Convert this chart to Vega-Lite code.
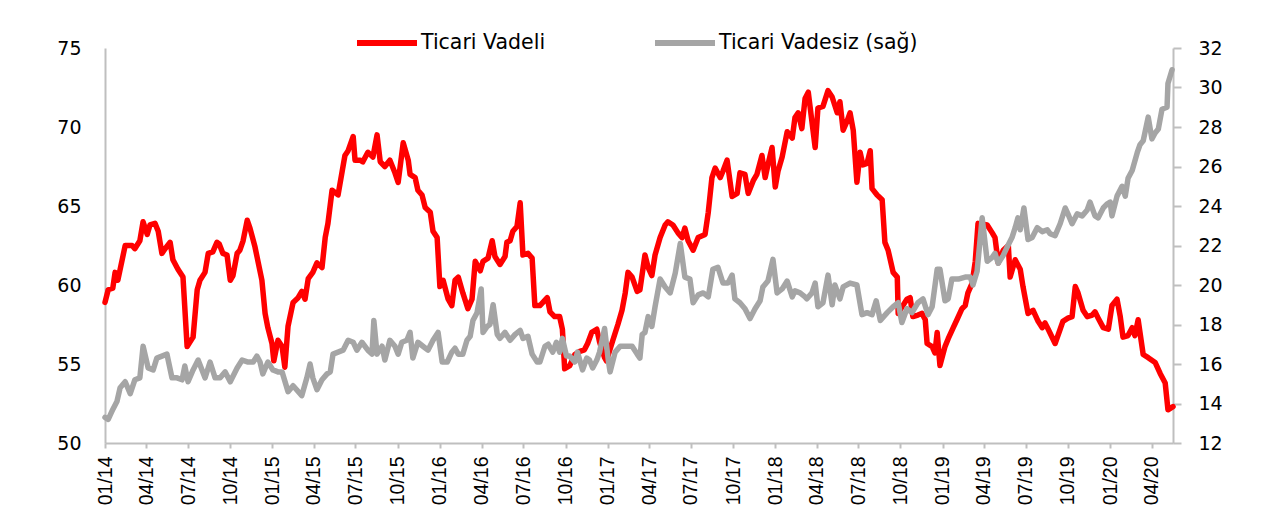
{
"$schema":"https://vega.github.io/schema/vega-lite/v6.json",
"width":1068,"height":395,
"autosize":{"type":"none"},
"padding":{"left":105,"top":48,"right":89,"bottom":75},
"background":"#ffffff",
"config":{"view":{"stroke":null},"axis":{"grid":false,"domainColor":"#bfbfbf","domainWidth":2,"tickColor":"#bfbfbf","tickWidth":2,"labelColor":"#000000","labelFont":"DejaVu Sans","labelFontSize":19,"title":null}},
"datasets":{
"vadeli":[{"d":"2014-01-01","v":58.9},{"d":"2014-01-08","v":59.7},{"d":"2014-01-18","v":59.8},{"d":"2014-01-23","v":60.8},{"d":"2014-01-29","v":60.3},{"d":"2014-02-14","v":62.5},{"d":"2014-03-01","v":62.5},{"d":"2014-03-07","v":62.3},{"d":"2014-03-18","v":62.8},{"d":"2014-03-25","v":64.0},{"d":"2014-04-03","v":63.2},{"d":"2014-04-09","v":63.8},{"d":"2014-04-20","v":63.9},{"d":"2014-04-27","v":63.4},{"d":"2014-05-05","v":62.0},{"d":"2014-05-12","v":62.3},{"d":"2014-05-23","v":62.7},{"d":"2014-05-29","v":61.6},{"d":"2014-06-09","v":61.0},{"d":"2014-06-20","v":60.5},{"d":"2014-06-29","v":56.1},{"d":"2014-07-12","v":56.7},{"d":"2014-07-21","v":59.7},{"d":"2014-07-27","v":60.3},{"d":"2014-08-07","v":60.8},{"d":"2014-08-14","v":62.0},{"d":"2014-08-24","v":62.1},{"d":"2014-09-02","v":62.7},{"d":"2014-09-07","v":62.6},{"d":"2014-09-15","v":62.0},{"d":"2014-09-24","v":61.9},{"d":"2014-10-01","v":60.3},{"d":"2014-10-07","v":60.6},{"d":"2014-10-16","v":62.0},{"d":"2014-10-22","v":62.2},{"d":"2014-10-29","v":62.8},{"d":"2014-11-07","v":64.1},{"d":"2014-11-13","v":63.6},{"d":"2014-11-24","v":62.4},{"d":"2014-12-09","v":60.3},{"d":"2014-12-16","v":58.2},{"d":"2014-12-22","v":57.3},{"d":"2014-12-31","v":56.3},{"d":"2015-01-04","v":55.2},{"d":"2015-01-13","v":56.5},{"d":"2015-01-22","v":56.1},{"d":"2015-01-28","v":54.8},{"d":"2015-02-04","v":57.4},{"d":"2015-02-15","v":58.9},{"d":"2015-02-26","v":59.2},{"d":"2015-03-06","v":59.6},{"d":"2015-03-13","v":59.1},{"d":"2015-03-20","v":60.4},{"d":"2015-03-30","v":60.8},{"d":"2015-04-08","v":61.4},{"d":"2015-04-19","v":61.1},{"d":"2015-04-26","v":63.0},{"d":"2015-05-02","v":63.9},{"d":"2015-05-11","v":66.0},{"d":"2015-05-24","v":65.7},{"d":"2015-06-02","v":67.2},{"d":"2015-06-08","v":68.2},{"d":"2015-06-15","v":68.5},{"d":"2015-06-26","v":69.4},{"d":"2015-06-30","v":67.9},{"d":"2015-07-11","v":67.9},{"d":"2015-07-17","v":67.8},{"d":"2015-07-28","v":68.4},{"d":"2015-08-08","v":68.1},{"d":"2015-08-17","v":69.5},{"d":"2015-08-24","v":67.8},{"d":"2015-09-03","v":67.5},{"d":"2015-09-14","v":67.9},{"d":"2015-09-25","v":67.1},{"d":"2015-10-02","v":66.5},{"d":"2015-10-13","v":69.0},{"d":"2015-10-24","v":67.9},{"d":"2015-10-28","v":67.0},{"d":"2015-11-08","v":66.8},{"d":"2015-11-14","v":66.0},{"d":"2015-11-23","v":65.7},{"d":"2015-11-30","v":64.9},{"d":"2015-12-11","v":64.6},{"d":"2015-12-17","v":63.4},{"d":"2015-12-26","v":63.0},{"d":"2016-01-01","v":59.9},{"d":"2016-01-08","v":60.3},{"d":"2016-01-19","v":59.1},{"d":"2016-01-27","v":58.7},{"d":"2016-02-03","v":60.3},{"d":"2016-02-10","v":60.5},{"d":"2016-02-20","v":59.5},{"d":"2016-03-02","v":58.5},{"d":"2016-03-11","v":59.1},{"d":"2016-03-18","v":61.5},{"d":"2016-03-29","v":60.9},{"d":"2016-04-04","v":61.5},{"d":"2016-04-15","v":61.7},{"d":"2016-04-24","v":62.8},{"d":"2016-04-30","v":61.8},{"d":"2016-05-11","v":61.3},{"d":"2016-05-22","v":61.8},{"d":"2016-05-26","v":62.7},{"d":"2016-06-02","v":62.8},{"d":"2016-06-08","v":63.4},{"d":"2016-06-17","v":63.7},{"d":"2016-06-24","v":65.2},{"d":"2016-06-30","v":61.9},{"d":"2016-07-11","v":62.0},{"d":"2016-07-20","v":61.7},{"d":"2016-07-26","v":58.7},{"d":"2016-08-06","v":58.7},{"d":"2016-08-22","v":59.2},{"d":"2016-08-28","v":58.3},{"d":"2016-09-07","v":58.0},{"d":"2016-09-18","v":58.0},{"d":"2016-09-24","v":57.2},{"d":"2016-09-29","v":54.7},{"d":"2016-10-10","v":54.9},{"d":"2016-10-21","v":55.6},{"d":"2016-11-01","v":55.8},{"d":"2016-11-11","v":55.9},{"d":"2016-11-18","v":56.3},{"d":"2016-11-27","v":57.0},{"d":"2016-12-08","v":57.2},{"d":"2016-12-14","v":56.4},{"d":"2016-12-25","v":55.4},{"d":"2016-12-29","v":55.2},{"d":"2017-01-12","v":56.5},{"d":"2017-01-23","v":57.5},{"d":"2017-02-01","v":58.4},{"d":"2017-02-08","v":59.5},{"d":"2017-02-14","v":60.8},{"d":"2017-02-23","v":60.5},{"d":"2017-03-06","v":59.6},{"d":"2017-03-12","v":59.7},{"d":"2017-03-23","v":61.9},{"d":"2017-03-30","v":61.1},{"d":"2017-04-07","v":60.6},{"d":"2017-04-14","v":61.9},{"d":"2017-04-25","v":63.0},{"d":"2017-05-06","v":63.8},{"d":"2017-05-12","v":64.0},{"d":"2017-05-23","v":63.8},{"d":"2017-06-03","v":63.3},{"d":"2017-06-12","v":63.0},{"d":"2017-06-18","v":63.6},{"d":"2017-06-25","v":62.8},{"d":"2017-07-06","v":62.2},{"d":"2017-07-17","v":63.0},{"d":"2017-08-01","v":63.2},{"d":"2017-08-08","v":64.6},{"d":"2017-08-16","v":66.8},{"d":"2017-08-23","v":67.4},{"d":"2017-09-03","v":66.8},{"d":"2017-09-09","v":67.2},{"d":"2017-09-18","v":67.9},{"d":"2017-09-29","v":65.6},{"d":"2017-10-10","v":65.8},{"d":"2017-10-16","v":67.1},{"d":"2017-10-27","v":67.0},{"d":"2017-11-03","v":65.8},{"d":"2017-11-14","v":66.6},{"d":"2017-11-22","v":67.0},{"d":"2017-12-03","v":68.2},{"d":"2017-12-10","v":66.8},{"d":"2017-12-16","v":67.6},{"d":"2017-12-25","v":68.7},{"d":"2018-01-01","v":66.2},{"d":"2018-01-07","v":67.2},{"d":"2018-01-16","v":68.1},{"d":"2018-01-27","v":69.7},{"d":"2018-02-07","v":69.3},{"d":"2018-02-13","v":70.6},{"d":"2018-02-20","v":70.9},{"d":"2018-02-28","v":69.9},{"d":"2018-03-07","v":71.8},{"d":"2018-03-14","v":72.2},{"d":"2018-03-29","v":68.7},{"d":"2018-04-04","v":71.2},{"d":"2018-04-15","v":71.3},{"d":"2018-04-26","v":72.3},{"d":"2018-05-05","v":71.9},{"d":"2018-05-16","v":70.9},{"d":"2018-05-22","v":71.6},{"d":"2018-05-29","v":69.8},{"d":"2018-06-07","v":70.4},{"d":"2018-06-13","v":70.9},{"d":"2018-06-20","v":69.8},{"d":"2018-06-28","v":66.5},{"d":"2018-07-05","v":68.4},{"d":"2018-07-11","v":67.6},{"d":"2018-07-20","v":67.7},{"d":"2018-07-27","v":68.5},{"d":"2018-07-31","v":66.1},{"d":"2018-08-11","v":65.7},{"d":"2018-08-22","v":65.4},{"d":"2018-08-28","v":62.7},{"d":"2018-09-04","v":62.2},{"d":"2018-09-15","v":60.8},{"d":"2018-09-24","v":60.5},{"d":"2018-09-26","v":58.2},{"d":"2018-10-04","v":58.6},{"d":"2018-10-15","v":59.1},{"d":"2018-10-22","v":59.2},{"d":"2018-10-28","v":58.0},{"d":"2018-11-08","v":58.1},{"d":"2018-11-17","v":58.2},{"d":"2018-11-24","v":57.8},{"d":"2018-11-28","v":56.3},{"d":"2018-12-09","v":56.1},{"d":"2018-12-15","v":55.7},{"d":"2018-12-20","v":57.0},{"d":"2018-12-26","v":54.9},{"d":"2019-01-06","v":56.1},{"d":"2019-01-13","v":56.6},{"d":"2019-01-24","v":57.3},{"d":"2019-02-01","v":57.8},{"d":"2019-02-12","v":58.5},{"d":"2019-02-19","v":58.7},{"d":"2019-02-25","v":59.5},{"d":"2019-03-06","v":60.1},{"d":"2019-03-13","v":61.5},{"d":"2019-03-19","v":63.9},{"d":"2019-04-08","v":63.8},{"d":"2019-04-19","v":63.3},{"d":"2019-04-25","v":63.0},{"d":"2019-05-02","v":61.4},{"d":"2019-05-13","v":62.2},{"d":"2019-05-24","v":62.5},{"d":"2019-05-28","v":60.5},{"d":"2019-06-08","v":61.6},{"d":"2019-06-19","v":61.0},{"d":"2019-06-25","v":59.9},{"d":"2019-07-06","v":58.2},{"d":"2019-07-17","v":58.4},{"d":"2019-07-28","v":57.7},{"d":"2019-08-06","v":57.3},{"d":"2019-08-12","v":57.6},{"d":"2019-08-19","v":57.2},{"d":"2019-09-03","v":56.3},{"d":"2019-09-14","v":57.2},{"d":"2019-09-20","v":57.7},{"d":"2019-10-01","v":57.9},{"d":"2019-10-10","v":58.0},{"d":"2019-10-17","v":59.9},{"d":"2019-10-23","v":59.5},{"d":"2019-11-03","v":58.4},{"d":"2019-11-12","v":58.0},{"d":"2019-11-23","v":58.1},{"d":"2019-11-29","v":58.3},{"d":"2019-12-06","v":57.9},{"d":"2019-12-17","v":57.3},{"d":"2019-12-28","v":57.2},{"d":"2020-01-05","v":58.7},{"d":"2020-01-16","v":59.1},{"d":"2020-01-23","v":58.0},{"d":"2020-01-29","v":56.7},{"d":"2020-02-09","v":56.8},{"d":"2020-02-18","v":57.3},{"d":"2020-02-24","v":56.8},{"d":"2020-03-02","v":57.8},{"d":"2020-03-13","v":55.6},{"d":"2020-03-24","v":55.4},{"d":"2020-04-08","v":55.1},{"d":"2020-04-19","v":54.4},{"d":"2020-04-30","v":53.8},{"d":"2020-05-06","v":52.1},{"d":"2020-05-17","v":52.3}],
"vadesiz":[{"d":"2014-01-01","v":13.3},{"d":"2014-01-08","v":13.2},{"d":"2014-01-18","v":13.7},{"d":"2014-01-27","v":14.1},{"d":"2014-02-03","v":14.8},{"d":"2014-02-14","v":15.1},{"d":"2014-02-25","v":14.5},{"d":"2014-03-07","v":15.2},{"d":"2014-03-18","v":15.3},{"d":"2014-03-25","v":16.9},{"d":"2014-04-05","v":15.8},{"d":"2014-04-16","v":15.7},{"d":"2014-04-24","v":16.3},{"d":"2014-05-05","v":16.4},{"d":"2014-05-16","v":16.5},{"d":"2014-05-27","v":15.3},{"d":"2014-06-07","v":15.3},{"d":"2014-06-18","v":15.2},{"d":"2014-06-24","v":15.9},{"d":"2014-07-01","v":15.1},{"d":"2014-07-12","v":15.7},{"d":"2014-07-23","v":16.2},{"d":"2014-08-07","v":15.3},{"d":"2014-08-18","v":16.1},{"d":"2014-08-29","v":15.3},{"d":"2014-09-09","v":15.3},{"d":"2014-09-20","v":15.6},{"d":"2014-10-01","v":15.1},{"d":"2014-10-16","v":15.8},{"d":"2014-10-27","v":16.2},{"d":"2014-11-09","v":16.1},{"d":"2014-11-20","v":16.1},{"d":"2014-11-28","v":16.4},{"d":"2014-12-05","v":16.1},{"d":"2014-12-11","v":15.5},{"d":"2014-12-22","v":16.1},{"d":"2015-01-02","v":15.7},{"d":"2015-01-13","v":15.6},{"d":"2015-01-22","v":15.6},{"d":"2015-02-04","v":14.6},{"d":"2015-02-15","v":14.9},{"d":"2015-03-06","v":14.4},{"d":"2015-03-17","v":15.3},{"d":"2015-03-24","v":16.0},{"d":"2015-03-30","v":15.3},{"d":"2015-04-08","v":14.7},{"d":"2015-04-19","v":15.2},{"d":"2015-04-30","v":15.5},{"d":"2015-05-07","v":15.6},{"d":"2015-05-13","v":16.5},{"d":"2015-05-24","v":16.6},{"d":"2015-06-04","v":16.7},{"d":"2015-06-15","v":17.2},{"d":"2015-06-26","v":17.1},{"d":"2015-07-04","v":16.7},{"d":"2015-07-15","v":17.1},{"d":"2015-07-28","v":16.7},{"d":"2015-08-06","v":16.5},{"d":"2015-08-10","v":18.2},{"d":"2015-08-17","v":16.5},{"d":"2015-08-28","v":16.9},{"d":"2015-09-03","v":16.2},{"d":"2015-09-14","v":17.2},{"d":"2015-09-25","v":16.9},{"d":"2015-10-02","v":16.5},{"d":"2015-10-10","v":17.1},{"d":"2015-10-21","v":17.2},{"d":"2015-10-28","v":17.6},{"d":"2015-11-03","v":16.3},{"d":"2015-11-14","v":17.1},{"d":"2015-11-25","v":16.9},{"d":"2015-12-06","v":16.7},{"d":"2015-12-17","v":17.2},{"d":"2015-12-28","v":17.6},{"d":"2016-01-06","v":16.1},{"d":"2016-01-17","v":16.1},{"d":"2016-01-27","v":16.6},{"d":"2016-02-03","v":16.8},{"d":"2016-02-10","v":16.5},{"d":"2016-02-20","v":16.5},{"d":"2016-02-29","v":17.2},{"d":"2016-03-07","v":17.4},{"d":"2016-03-13","v":18.2},{"d":"2016-03-22","v":18.6},{"d":"2016-03-31","v":19.8},{"d":"2016-04-04","v":17.6},{"d":"2016-04-13","v":17.9},{"d":"2016-04-19","v":18.0},{"d":"2016-04-26","v":19.0},{"d":"2016-05-05","v":17.5},{"d":"2016-05-11","v":17.3},{"d":"2016-05-22","v":17.6},{"d":"2016-06-02","v":17.2},{"d":"2016-06-13","v":17.5},{"d":"2016-06-24","v":17.7},{"d":"2016-06-30","v":17.3},{"d":"2016-07-11","v":17.4},{"d":"2016-07-20","v":16.5},{"d":"2016-07-31","v":16.1},{"d":"2016-08-06","v":16.1},{"d":"2016-08-17","v":16.9},{"d":"2016-08-24","v":17.0},{"d":"2016-09-03","v":16.6},{"d":"2016-09-11","v":17.1},{"d":"2016-09-18","v":16.6},{"d":"2016-09-24","v":17.3},{"d":"2016-10-03","v":16.4},{"d":"2016-10-10","v":16.4},{"d":"2016-10-21","v":16.1},{"d":"2016-10-27","v":16.6},{"d":"2016-11-07","v":15.7},{"d":"2016-11-16","v":16.3},{"d":"2016-11-22","v":16.2},{"d":"2016-11-29","v":15.8},{"d":"2016-12-08","v":16.2},{"d":"2016-12-14","v":16.6},{"d":"2016-12-25","v":17.8},{"d":"2017-01-02","v":16.2},{"d":"2017-01-06","v":15.6},{"d":"2017-01-17","v":16.6},{"d":"2017-01-28","v":16.9},{"d":"2017-02-08","v":16.9},{"d":"2017-02-23","v":16.9},{"d":"2017-03-06","v":16.5},{"d":"2017-03-12","v":16.3},{"d":"2017-03-17","v":17.5},{"d":"2017-03-23","v":17.6},{"d":"2017-03-30","v":18.4},{"d":"2017-04-07","v":17.9},{"d":"2017-04-14","v":18.9},{"d":"2017-04-25","v":20.3},{"d":"2017-05-06","v":19.9},{"d":"2017-05-17","v":19.6},{"d":"2017-05-28","v":20.6},{"d":"2017-06-08","v":22.1},{"d":"2017-06-18","v":20.4},{"d":"2017-06-29","v":20.3},{"d":"2017-07-06","v":19.1},{"d":"2017-07-17","v":19.5},{"d":"2017-07-28","v":19.6},{"d":"2017-08-08","v":19.4},{"d":"2017-08-18","v":20.8},{"d":"2017-08-29","v":20.9},{"d":"2017-09-09","v":20.1},{"d":"2017-09-20","v":20.1},{"d":"2017-09-29","v":20.5},{"d":"2017-10-05","v":19.3},{"d":"2017-10-16","v":19.1},{"d":"2017-10-27","v":18.8},{"d":"2017-11-07","v":18.3},{"d":"2017-11-18","v":18.8},{"d":"2017-11-29","v":19.2},{"d":"2017-12-05","v":19.9},{"d":"2017-12-16","v":20.2},{"d":"2017-12-27","v":21.3},{"d":"2018-01-05","v":19.6},{"d":"2018-01-16","v":19.8},{"d":"2018-01-27","v":20.2},{"d":"2018-02-07","v":19.4},{"d":"2018-02-13","v":19.7},{"d":"2018-02-24","v":19.6},{"d":"2018-03-07","v":19.4},{"d":"2018-03-11","v":19.3},{"d":"2018-03-22","v":19.6},{"d":"2018-03-29","v":20.1},{"d":"2018-04-04","v":18.9},{"d":"2018-04-15","v":19.1},{"d":"2018-04-26","v":20.5},{"d":"2018-05-05","v":19.0},{"d":"2018-05-11","v":20.0},{"d":"2018-05-22","v":19.3},{"d":"2018-05-29","v":19.9},{"d":"2018-06-13","v":20.1},{"d":"2018-06-28","v":20.0},{"d":"2018-07-09","v":18.5},{"d":"2018-07-20","v":18.6},{"d":"2018-07-31","v":18.5},{"d":"2018-08-09","v":19.2},{"d":"2018-08-18","v":18.2},{"d":"2018-09-02","v":18.6},{"d":"2018-09-15","v":18.9},{"d":"2018-09-26","v":19.1},{"d":"2018-10-04","v":18.1},{"d":"2018-10-15","v":18.8},{"d":"2018-10-26","v":18.6},{"d":"2018-11-08","v":19.1},{"d":"2018-11-19","v":19.3},{"d":"2018-11-30","v":18.5},{"d":"2018-12-09","v":18.9},{"d":"2018-12-20","v":20.8},{"d":"2018-12-26","v":20.8},{"d":"2019-01-06","v":19.2},{"d":"2019-01-13","v":19.3},{"d":"2019-01-21","v":20.3},{"d":"2019-02-04","v":20.3},{"d":"2019-02-19","v":20.4},{"d":"2019-03-02","v":20.4},{"d":"2019-03-08","v":20.0},{"d":"2019-03-17","v":20.7},{"d":"2019-03-28","v":23.4},{"d":"2019-04-08","v":21.2},{"d":"2019-04-19","v":21.4},{"d":"2019-04-25","v":21.6},{"d":"2019-05-02","v":21.1},{"d":"2019-05-13","v":21.5},{"d":"2019-05-21","v":21.9},{"d":"2019-06-01","v":22.4},{"d":"2019-06-08","v":22.9},{"d":"2019-06-14","v":23.4},{"d":"2019-06-19","v":22.8},{"d":"2019-06-27","v":23.9},{"d":"2019-07-06","v":22.3},{"d":"2019-07-15","v":22.4},{"d":"2019-07-26","v":22.9},{"d":"2019-08-06","v":22.7},{"d":"2019-08-17","v":22.8},{"d":"2019-08-23","v":22.6},{"d":"2019-09-03","v":22.5},{"d":"2019-09-14","v":23.1},{"d":"2019-09-25","v":23.9},{"d":"2019-10-01","v":23.6},{"d":"2019-10-10","v":23.1},{"d":"2019-10-21","v":23.6},{"d":"2019-11-01","v":23.5},{"d":"2019-11-12","v":23.8},{"d":"2019-11-18","v":24.2},{"d":"2019-11-29","v":23.5},{"d":"2019-12-06","v":23.4},{"d":"2019-12-17","v":23.9},{"d":"2019-12-25","v":24.1},{"d":"2020-01-01","v":24.2},{"d":"2020-01-05","v":23.5},{"d":"2020-01-16","v":24.5},{"d":"2020-01-27","v":25.0},{"d":"2020-02-03","v":24.5},{"d":"2020-02-09","v":25.4},{"d":"2020-02-18","v":25.8},{"d":"2020-02-29","v":26.7},{"d":"2020-03-06","v":27.1},{"d":"2020-03-13","v":27.3},{"d":"2020-03-24","v":28.5},{"d":"2020-04-01","v":27.4},{"d":"2020-04-08","v":27.7},{"d":"2020-04-15","v":27.9},{"d":"2020-04-23","v":28.9},{"d":"2020-05-04","v":29.0},{"d":"2020-05-06","v":30.2},{"d":"2020-05-15","v":30.9}]
},
"encoding":{
"x":{"field":"d","type":"temporal","scale":{"type":"utc","domain":[{"year":2014,"month":1,"date":1,"utc":true},{"year":2020,"month":5,"date":17,"utc":true}]},
"axis":{"values":[{"year":2014,"month":1,"date":1,"utc":true},{"year":2014,"month":4,"date":1,"utc":true},{"year":2014,"month":7,"date":1,"utc":true},{"year":2014,"month":10,"date":1,"utc":true},{"year":2015,"month":1,"date":1,"utc":true},{"year":2015,"month":4,"date":1,"utc":true},{"year":2015,"month":7,"date":1,"utc":true},{"year":2015,"month":10,"date":1,"utc":true},{"year":2016,"month":1,"date":1,"utc":true},{"year":2016,"month":4,"date":1,"utc":true},{"year":2016,"month":7,"date":1,"utc":true},{"year":2016,"month":10,"date":1,"utc":true},{"year":2017,"month":1,"date":1,"utc":true},{"year":2017,"month":4,"date":1,"utc":true},{"year":2017,"month":7,"date":1,"utc":true},{"year":2017,"month":10,"date":1,"utc":true},{"year":2018,"month":1,"date":1,"utc":true},{"year":2018,"month":4,"date":1,"utc":true},{"year":2018,"month":7,"date":1,"utc":true},{"year":2018,"month":10,"date":1,"utc":true},{"year":2019,"month":1,"date":1,"utc":true},{"year":2019,"month":4,"date":1,"utc":true},{"year":2019,"month":7,"date":1,"utc":true},{"year":2019,"month":10,"date":1,"utc":true},{"year":2020,"month":1,"date":1,"utc":true},{"year":2020,"month":4,"date":1,"utc":true}],
"labelExpr":"utcFormat(datum.value, '%m/%y')","labelAngle":-90,"labelFont":"Liberation Sans","labelFontSize":19.5,"tickSize":5,"labelPadding":8,"labelFlush":false,"labelOverlap":false}}
},
"layer":[
{"data":{"name":"vadeli"},
"mark":{"type":"line","strokeWidth":5.5,"strokeJoin":"round","strokeCap":"round"},
"encoding":{
"y":{"field":"v","type":"quantitative","scale":{"domain":[50,75],"nice":false,"zero":false},"axis":{"orient":"left","values":[50,55,60,65,70,75],"ticks":false,"labelPadding":24}},
"color":{"datum":"Ticari Vadeli","type":"nominal","scale":{"domain":["Ticari Vadeli","Ticari Vadesiz (sağ)"],"range":["#ff0000","#a5a5a5"]},
"legend":{"orient":"none","legendX":249,"legendY":-38,"direction":"horizontal","title":null,"symbolType":"stroke","symbolSize":3600,"symbolStrokeWidth":6,"labelFont":"DejaVu Sans","labelFontSize":20.5,"labelColor":"#000000","labelLimit":0,"columnPadding":97,"labelOffset":1}}
}},
{"data":{"name":"vadesiz"},
"mark":{"type":"line","strokeWidth":5.5,"strokeJoin":"round","strokeCap":"round"},
"encoding":{
"y":{"field":"v","type":"quantitative","scale":{"domain":[12,32],"nice":false,"zero":false},"axis":{"orient":"right","values":[12,14,16,18,20,22,24,26,28,30,32],"ticks":true,"tickSize":8,"labelPadding":17}},
"color":{"datum":"Ticari Vadesiz (sağ)","type":"nominal"}
}}
],
"resolve":{"scale":{"y":"independent"}}
}
